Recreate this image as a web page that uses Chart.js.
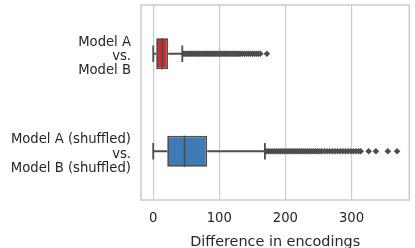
<!DOCTYPE html>
<html>
<head>
<meta charset="utf-8">
<script src="https://cdn.jsdelivr.net/npm/chart.js@4.4.1/dist/chart.umd.min.js"></script>
<style>
  html, body { margin: 0; padding: 0; background: #fff; }
  #wrap { width: 415px; height: 248px; position: relative; }
</style>
</head>
<body>
<div id="wrap"><canvas id="chart"></canvas></div>
<script>
// data
const categories = [
  ["Model A", "vs.", "Model B"],
  ["Model A (shuffled)", "vs.", "Model B (shuffled)"]
];
const whiskerLow = [0, 0];
const q1 = [4.5, 21.2];
const median = [13.6, 47.4];
const q3 = [22.7, 81.7];
const whiskerHigh = [44, 169];
const outliersA = [46, 48, 50, 52, 54, 56, 58, 60, 62, 64, 66, 68, 70, 72, 74, 76, 78, 80,
  82, 84, 86, 88, 90, 92, 94, 96, 98, 100, 102, 104, 106, 108, 110, 112, 114, 116, 118, 120,
  122, 124, 126, 128, 130, 132, 135, 138, 141, 144, 147, 150, 153, 156, 159, 162, 172];
const outliersB = [171, 174, 177, 180, 183, 186, 189, 192, 195, 198, 201, 204, 207, 210, 213,
  216, 219, 222, 225, 228, 231, 234, 237, 240, 243, 246, 249, 252, 255, 259, 263, 267, 271,
  275, 279, 283, 287, 291, 295, 299, 303, 307, 311, 314, 326, 337, 355, 369];
const xTicks = [0, 100, 200, 300];

const boxColors = ["#d12b2c", "#3e7ab4"];
const lineGray = "#4d4d4d";
const BOX_HALF = 0.16;
const CAP_HALF = 0.085;

// frame around the plot area (seaborn spines)
const framePlugin = {
  id: "frame",
  beforeDatasetsDraw(chart) {
    const a = chart.chartArea, c = chart.ctx;
    c.save();
    c.strokeStyle = "#cccccc";
    c.lineWidth = 1.5;
    c.strokeRect(a.left, a.top, a.right - a.left, a.bottom - a.top);
    c.restore();
  }
};

function lineSet(points, order) {
  return {
    type: "line",
    data: points,
    borderColor: lineGray,
    borderWidth: 1.8,
    pointRadius: 0,
    fill: false,
    order: order
  };
}

const datasets = [];

// boxes
datasets.push({
  type: "bar",
  data: categories.map((c, i) => ({ x: [q1[i], q3[i]], y: i })),
  backgroundColor: boxColors,
  borderColor: lineGray,
  borderWidth: 1.8,
  borderSkipped: false,
  categoryPercentage: BOX_HALF * 2,
  barPercentage: 1,
  order: 1
});

categories.forEach((c, i) => {
  // whiskers with caps
  datasets.push(lineSet([
    { x: whiskerLow[i], y: i - CAP_HALF }, { x: whiskerLow[i], y: i + CAP_HALF },
    { x: whiskerLow[i], y: i }, { x: q1[i], y: i }
  ], 2));
  datasets.push(lineSet([
    { x: q3[i], y: i }, { x: whiskerHigh[i], y: i },
    { x: whiskerHigh[i], y: i - CAP_HALF }, { x: whiskerHigh[i], y: i + CAP_HALF }
  ], 2));
  // median
  datasets.push(lineSet([
    { x: median[i], y: i - BOX_HALF }, { x: median[i], y: i + BOX_HALF }
  ], 0));
});

// outliers
[outliersA, outliersB].forEach((vals, i) => {
  datasets.push({
    type: "scatter",
    data: vals.map(v => ({ x: v, y: i })),
    pointStyle: "rectRot",
    pointRadius: 3.3,
    backgroundColor: lineGray,
    borderWidth: 0,
    showLine: false,
    order: 0
  });
});

const tickFont = { family: "DejaVu Sans", size: 13.2 };

new Chart(document.getElementById("chart"), {
  type: "bar",
  data: { datasets: datasets },
  options: {
    indexAxis: "y",
    responsive: true,
    maintainAspectRatio: false,
    animation: false,
    events: [],
    layout: { padding: { top: 5, right: 5.7, bottom: 0, left: 0 } },
    plugins: { legend: { display: false }, tooltip: { enabled: false } },
    scales: {
      x: {
        type: "linear",
        min: -18.5,
        max: 387.5,
        offset: false,
        afterBuildTicks(s) { s.ticks = xTicks.map(v => ({ value: v })); },
        afterFit(s) { s.height = 48; s.paddingLeft = 0; s.paddingRight = 0; },
        grid: { color: "#cccccc", lineWidth: 1.2, drawTicks: false, tickLength: 0 },
        border: { display: false },
        ticks: { color: "#262626", font: tickFont, padding: 11, maxRotation: 0 },
        title: {
          display: true,
          text: "Difference in encodings",
          color: "#262626",
          font: { family: "DejaVu Sans", size: 14.4, lineHeight: 1 },
          padding: { top: 0, bottom: -1.4 }
        }
      },
      y: {
        type: "linear",
        min: -0.5,
        max: 1.5,
        reverse: true,
        offset: false,
        afterBuildTicks(s) { s.ticks = categories.map((c, i) => ({ value: i })); },
        afterFit(s) { s.width = 141; s.paddingTop = 0; s.paddingBottom = 0; },
        grid: { display: false, drawTicks: false, tickLength: 0, offset: false },
        border: { display: false },
        ticks: {
          color: "#262626",
          font: Object.assign({ lineHeight: 1.08 }, tickFont),
          padding: 10,
          labelOffset: 3,
          callback: (v) => categories[v] || ""
        }
      }
    }
  },
  plugins: [framePlugin]
});
</script>
</body>
</html>
